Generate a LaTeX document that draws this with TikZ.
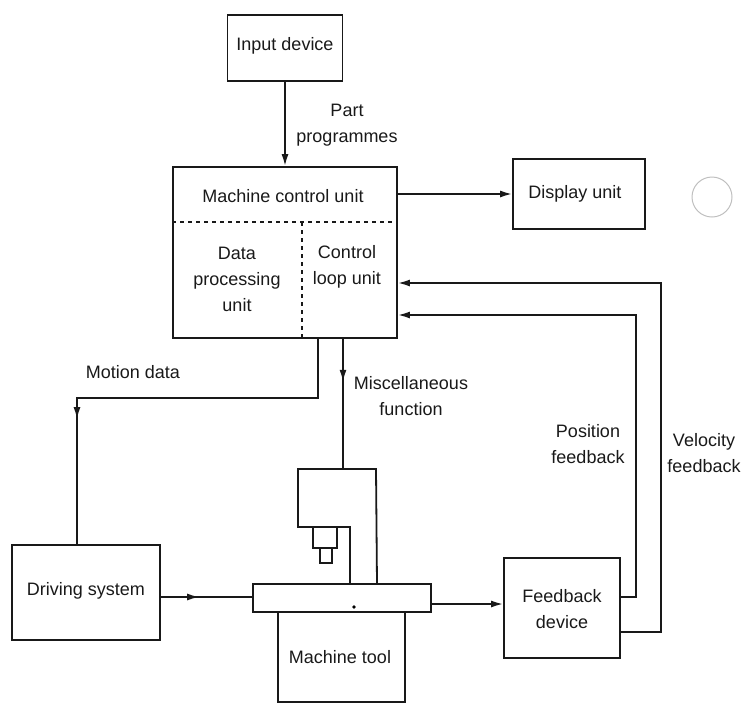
\documentclass[tikz,border=0pt]{standalone}
\usepackage{fontspec}
\setmainfont{Liberation Sans}
\usetikzlibrary{arrows.meta,decorations.markings}
\begin{document}
\begin{tikzpicture}[x=1pt,y=-1pt,
  line width=1.8pt, draw=black!90,
  every node/.style={font=\fontsize{18}{26}\selectfont, text=black!90},
  block/.style={draw, rectangle, inner sep=0pt},
  lbl/.style={align=center, inner sep=0pt},
  tip/.style={-{Latex[length=12pt,width=7pt]}},
  midarrow/.style={postaction={decorate}, decoration={markings,
     mark=at position #1 with {\arrow{Latex[length=12pt,width=7pt]}}}},
  divider/.style={line width=1.5pt, dash pattern=on 4pt off 4pt}
]
\useasboundingbox (0,0) rectangle (744,705);

% blocks
\node[block, minimum width=115pt, minimum height=66pt] (input) at (285,48) {};
\node[lbl] (inputtxt) at (285,46) {Input device};

\node[block, minimum width=224pt, minimum height=171pt] (mcu) at (285,252.5) {};
\node[lbl] (mcutxt) at (283,196) {Machine control unit};
\node[lbl] (dpu) at (237,279) {Data\\processing\\unit};
\node[lbl] (clu) at (347,267) {Control\\loop unit};
\coordinate (split) at (302,222);
\draw[divider] (mcu.west |- split) -- (mcu.east |- split);
\draw[divider] (split) -- (split |- mcu.south);

\node[block, minimum width=132pt, minimum height=70pt] (display) at (579,194) {};
\node[lbl] (disptxt) at (575,194) {Display unit};

\node[block, minimum width=148pt, minimum height=95pt] (driving) at (86,592.5) {};
\node[lbl] (drivtxt) at (86,591) {Driving system};

\node[block, minimum width=178pt, minimum height=28pt] (table) at (342,598) {};
\node[block, minimum width=127pt, minimum height=90pt] (base) at (341.5,657) {};
\node[lbl] (basetxt) at (340,657) {Machine tool};
\fill (354,607) circle (1.8pt);

\node[block, minimum width=116pt, minimum height=100pt] (feedback) at (562,608) {};
\node[lbl] (fbtxt) at (562,609) {Feedback\\device};

% machine head: column, spindle and cutter
\coordinate (headtop) at (343,469);
\draw (350,584) -- (350,527) -- (298,527) -- (298,469) -- (376,469) -- (377,584);
\draw (313,527) -- (313,548) -- (337,548) -- (337,527);
\draw (320,548) -- (320,563) -- (332,563) -- (332,548);

% hole punched in the sheet
\draw[line width=1pt, draw=black!25] (712,197) circle (20pt);

% connectors
\draw[tip] (input.south) -- (input.south |- mcu.north);
\node[lbl] (part) at (347,125) {Part\\programmes};

\draw[tip] (display.west -| mcu.east) -- (display.west);

\coordinate (md1) at (318,398);
\coordinate (md2) at (77,398);
\draw[midarrow=0.72] (md1 |- mcu.south) -- (md1) -- (md2) -- (md2 |- driving.north);
\node[lbl] (motion) at (133,372) {Motion data};

\draw[midarrow=0.33] (headtop |- mcu.south) -- (headtop);
\node[lbl] (misc) at (411,396) {Miscellaneous\\function};

\coordinate (dr) at (0,597);
\draw[midarrow=0.42] (driving.east |- dr) -- (table.west |- dr);
\coordinate (tb) at (0,604);
\draw[tip] (table.east |- tb) -- (feedback.west |- tb);

\coordinate (pf) at (636,597);
\coordinate (pfy) at (0,315);
\draw[tip] (feedback.east |- pf) -- (pf) -- (pf |- pfy) -- (mcu.east |- pfy);
\node[lbl] (pos) at (588,444) {Position\\feedback};

\coordinate (vf) at (661,632);
\coordinate (vfy) at (0,283);
\draw[tip] (feedback.east |- vf) -- (vf) -- (vf |- vfy) -- (mcu.east |- vfy);
\node[lbl] (vel) at (704,453) {Velocity\\feedback};
\end{tikzpicture}
\end{document}
